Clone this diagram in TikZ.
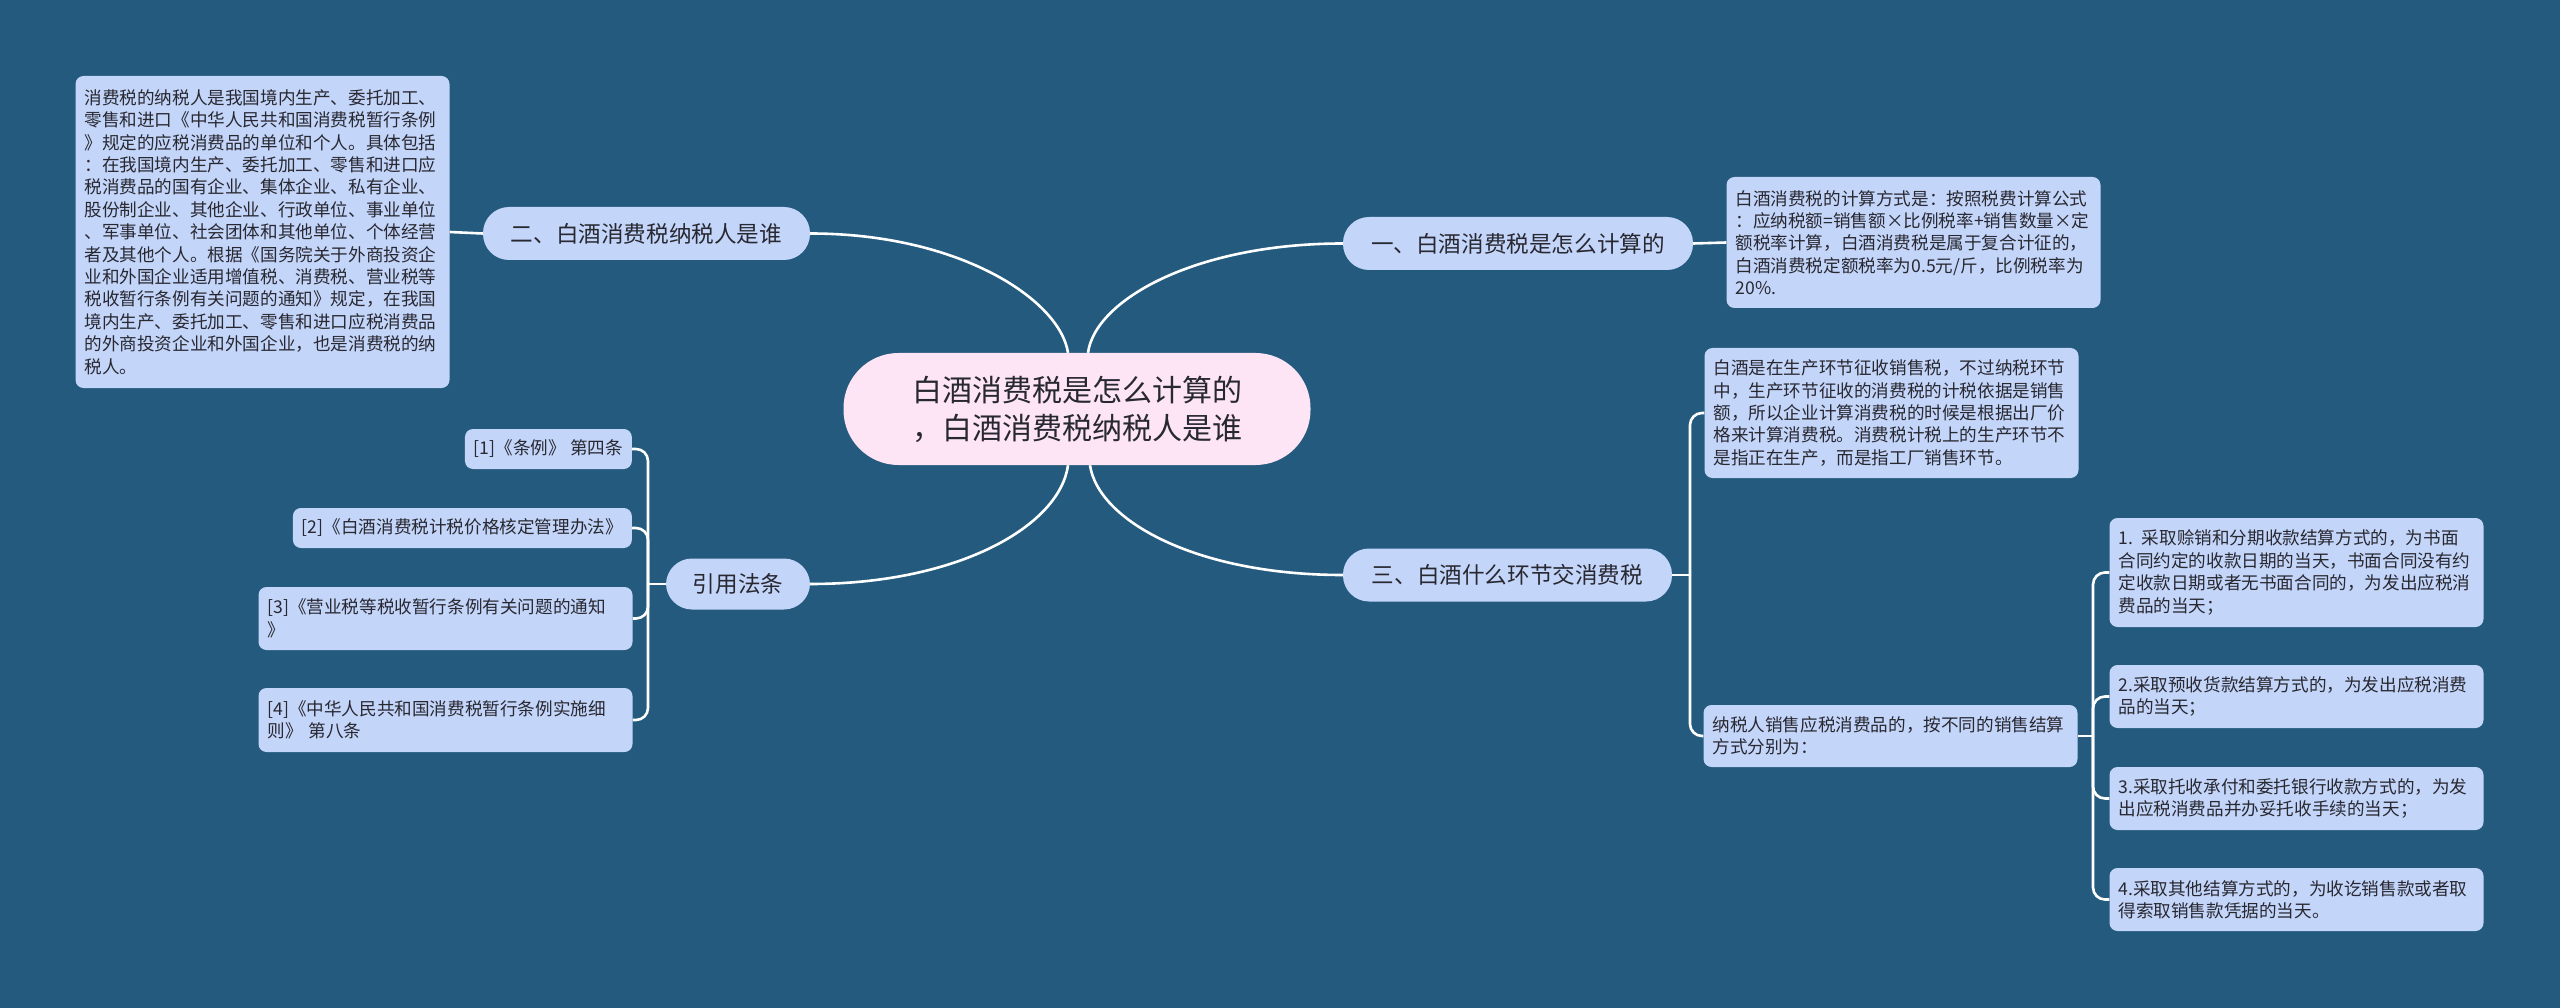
\documentclass[tikz,border=0pt]{standalone}
\usepackage{fontspec}
\setmainfont{Noto Sans CJK SC}
\usetikzlibrary{calc,backgrounds}
\definecolor{bg}{RGB}{35,90,125}
\definecolor{nodefill}{RGB}{196,213,250}
\definecolor{cenfill}{RGB}{253,229,246}
\definecolor{txt}{RGB}{40,40,48}
\begin{document}
\begin{tikzpicture}[x=1pt,y=-1pt,
 leaf/.style={fill=nodefill, rounded corners=8pt, text=txt, align=left, inner xsep=9pt, inner ysep=0pt, font=\fontsize{17.6}{22.4}\selectfont},
 wide/.style={leaf, text width=356pt, minimum width=374pt},
 topic/.style={fill=nodefill, rounded corners=26pt, text=txt, font=\fontsize{22.6}{27}\selectfont, minimum height=53pt, inner sep=0pt},
 cen/.style={fill=cenfill, rounded corners=55pt, text=txt, align=center, minimum width=467pt, minimum height=112pt, inner sep=0pt, font=\fontsize{30}{38}\selectfont},
 conn/.style={draw=white, line width=2.6pt},
 elbow/.style={conn, rounded corners=12pt},
]
\useasboundingbox (0,0) rectangle (2560,1008);

\node[cen] (c) at (1077,409) {白酒消费税是怎么计算的\\，白酒消费税纳税人是谁};

\node[topic, minimum width=327pt] (t2) at (646.5,233.5) {二、白酒消费税纳税人是谁};
\node[topic, minimum width=350pt] (t1) at (1518,243.5) {一、白酒消费税是怎么计算的};
\node[topic, minimum width=329pt] (t3) at (1507.5,575) {三、白酒什么环节交消费税};
\node[topic, minimum width=144pt, minimum height=51pt] (t4) at (738,584) {引用法条};

\node[wide, minimum height=312pt] (L1) at (262.5,232) {消费税的纳税人是我国境内生产、委托加工、\\零售和进口《中华人民共和国消费税暂行条例\\》规定的应税消费品的单位和个人。具体包括\\：在我国境内生产、委托加工、零售和进口应\\税消费品的国有企业、集体企业、私有企业、\\股份制企业、其他企业、行政单位、事业单位\\、军事单位、社会团体和其他单位、个体经营\\者及其他个人。根据《国务院关于外商投资企\\业和外国企业适用增值税、消费税、营业税等\\税收暂行条例有关问题的通知》规定，在我国\\境内生产、委托加工、零售和进口应税消费品\\的外商投资企业和外国企业，也是消费税的纳\\税人。};

\node[wide, minimum height=131pt] (R1) at (1913.5,242.5) {白酒消费税的计算方式是：按照税费计算公式\\：应纳税额=销售额×比例税率+销售数量×定\\额税率计算，白酒消费税是属于复合计征的，\\白酒消费税定额税率为0.5元/斤，比例税率为\\20\%.};

\node[wide, minimum height=130pt] (R2) at (1891.5,413) {白酒是在生产环节征收销售税，不过纳税环节\\中，生产环节征收的消费税的计税依据是销售\\额，所以企业计算消费税的时候是根据出厂价\\格来计算消费税。消费税计税上的生产环节不\\是指正在生产，而是指工厂销售环节。};

\node[wide, minimum height=62pt] (R3) at (1890.5,736) {纳税人销售应税消费品的，按不同的销售结算\\方式分别为：};

\node[wide, minimum height=109pt] (S1) at (2296.5,572.5) {1. 采取赊销和分期收款结算方式的，为书面\\合同约定的收款日期的当天，书面合同没有约\\定收款日期或者无书面合同的，为发出应税消\\费品的当天；};
\node[wide, minimum height=63pt] (S2) at (2296.5,696.5) {2.采取预收货款结算方式的，为发出应税消费\\品的当天；};
\node[wide, minimum height=63pt] (S3) at (2296.5,798.5) {3.采取托收承付和委托银行收款方式的，为发\\出应税消费品并办妥托收手续的当天；};
\node[wide, minimum height=63pt] (S4) at (2296.5,899.5) {4.采取其他结算方式的，为收讫销售款或者取\\得索取销售款凭据的当天。};

\node[leaf, minimum height=40pt, anchor=east] (F1) at (632,449) {[1]《条例》 第四条};
\node[leaf, minimum height=40pt, anchor=east] (F2) at (632,528) {[2]《白酒消费税计税价格核定管理办法》};
\node[wide, minimum height=63pt] (F3) at (445.5,618.5) {[3]《营业税等税收暂行条例有关问题的通知\\》};
\node[wide, minimum height=64pt] (F4) at (445.5,720) {[4]《中华人民共和国消费税暂行条例实施细\\则》 第八条};

\coordinate (s3) at (1690,575);
\coordinate (sR) at (2093,736);
\coordinate (sF) at (648,584);

\begin{pgfonlayer}{background}
\fill[bg] (0,0) rectangle (2560,1008);
\draw[conn] ($(c.north)+(-9,0)$) .. controls (1060,300) and (960,233.5) .. (t2.east);
\draw[conn] ($(c.north)+(11,0)$) .. controls (1095,300) and (1195,243.5) .. (t1.west);
\draw[conn] ($(c.south)+(13,0)$) .. controls (1098,520) and (1195,575) .. (t3.west);
\draw[conn] ($(c.south)+(-9,0)$) .. controls (1060,525) and (960,584) .. (t4.east);

\draw[conn] (t2.west) -- (L1.east);
\draw[conn] (t1.east) -- (R1.west);

\draw[conn] (t3.east) -- (s3);
\draw[elbow] (s3) |- (R2.west);
\draw[elbow] (s3) |- (R3.west);

\draw[conn] (R3.east) -- (sR);
\draw[elbow] (sR) |- (S1.west);
\draw[elbow] (sR) |- (S2.west);
\draw[elbow] (sR) |- (S3.west);
\draw[elbow] (sR) |- (S4.west);

\draw[conn] (t4.west) -- (sF);
\draw[elbow] (sF) |- (F1.east);
\draw[elbow] (sF) |- (F2.east);
\draw[elbow] (sF) |- (F3.east);
\draw[elbow] (sF) |- (F4.east);
\end{pgfonlayer}
\end{tikzpicture}
\end{document}
